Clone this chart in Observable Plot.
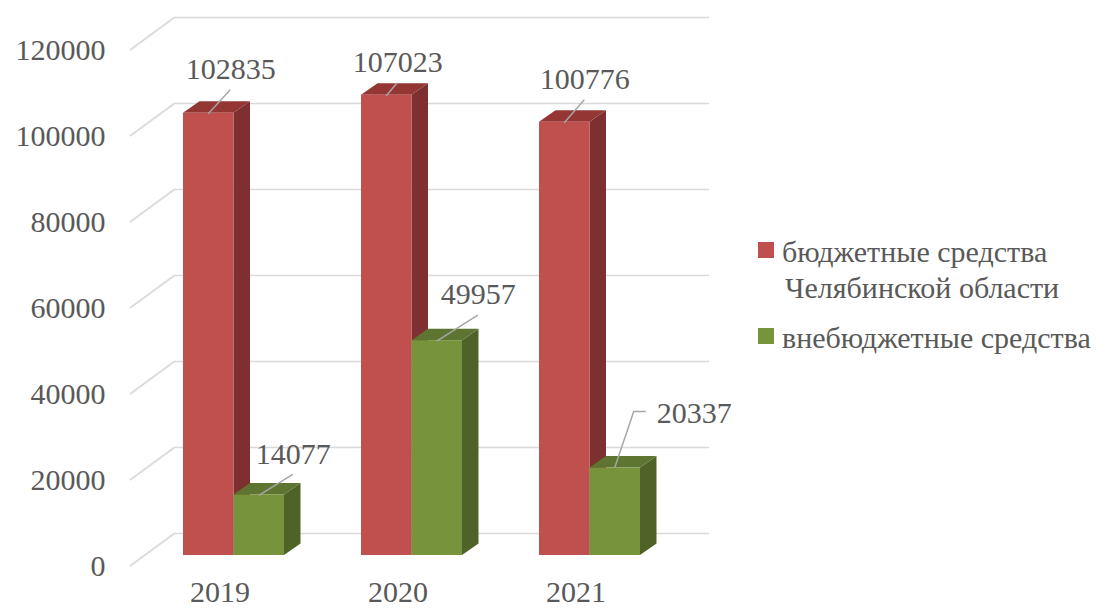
<!DOCTYPE html>
<html>
<head>
<meta charset="utf-8">
<script src="https://cdn.jsdelivr.net/npm/d3@7"></script>
<script src="https://cdn.jsdelivr.net/npm/@observablehq/plot@0.6"></script>
<style>
  html, body { margin: 0; padding: 0; background: #fff; }
  #wrap { position: relative; width: 1114px; height: 614px; overflow: hidden; color: #595959; }
  #chart { position: absolute; left: 0; top: 0; }
  #legend { position: absolute; left: 758px; top: 234px; line-height: 36px; font-size: 30px; }
  .item { display: flex; align-items: flex-start; margin-bottom: 14px; white-space: nowrap; }
  .sw { width: 16px; height: 16px; margin-top: 8px; margin-right: 8px; flex: none; }
</style>
</head>
<body>
<div id="wrap">
  <div id="chart"></div>
  <div id="legend"></div>
</div>
<script>
// ---- data ----
const years = ["2019", "2020", "2021"];
const budget = [102835, 107023, 100776];
const extra = [14077, 49957, 20337];
const seriesNames = ["бюджетные средства\nЧелябинской области", "внебюджетные средства"];
const yTicks = [0, 20000, 40000, 60000, 80000, 100000, 120000];

// ---- styles ----
const COLORS = [
  {front: "#c0504d", side: "#7d302f", top: "#943634"},
  {front: "#77933c", side: "#4f6228", top: "#5e7531"}
];
const GRID = "#d9d9d9";
const TEXT = "#595959";
const DEPTH = {dx: 16.5, dy: -11.5};
// label offsets (px) relative to the top-centre of each bar's front face
const labelOffsets = [
  [[22, -44], [11, -33], [20, -43]],
  [[34, -41], [41, -46], [79, -55]]
];

const FONT = "'Liberation Serif', serif";
const FS = 30;

const series = [budget, extra];
const rows = series.map((vals, s) => years.map((year, i) => ({year, value: vals[i], s})));

function barGeom(x, year, s) {
  const bw = x.bandwidth ? x.bandwidth() : 101;
  const x0 = x(year) + s * bw / 2;
  return {x0, x1: x0 + bw / 2, cx: x0 + bw / 4, bw};
}

// side and top faces of the 3D bars
function faces(s) {
  return (index, scales) => {
    const {x, y} = scales;
    const g = d3.create("svg:g");
    rows[s].forEach(d => {
      const {x0, x1} = barGeom(x, d.year, s);
      const yv = y(d.value), y0 = y(0);
      g.append("path")
        .attr("d", `M${x1},${yv}L${x1 + DEPTH.dx},${yv + DEPTH.dy}L${x1 + DEPTH.dx},${y0 + DEPTH.dy}L${x1},${y0}Z`)
        .attr("fill", COLORS[s].side);
      g.append("path")
        .attr("d", `M${x0},${yv}L${x0 + DEPTH.dx},${yv + DEPTH.dy}L${x1 + DEPTH.dx},${yv + DEPTH.dy}L${x1},${yv}Z`)
        .attr("fill", COLORS[s].top);
    });
    return g.node();
  };
}

// left-wall diagonal grid segments
function diagonals(index, scales, values, dims) {
  const {y} = scales;
  const ml = dims.marginLeft;
  const g = d3.create("svg:g").attr("stroke", GRID).attr("stroke-width", 1.6);
  yTicks.forEach(t => {
    g.append("line")
      .attr("x1", ml - 14).attr("y1", y(t) + 11)
      .attr("x2", ml + 31).attr("y2", y(t) - 22);
  });
  return g.node();
}

// leader lines from bars to their data labels
function leaders(index, scales) {
  const {x, y} = scales;
  const g = d3.create("svg:g").attr("stroke", "#a6a6a6").attr("stroke-width", 1.5).attr("fill", "none");
  rows.forEach((r, s) => r.forEach((d, i) => {
    const {cx} = barGeom(x, d.year, s);
    const yv = y(d.value);
    const [ox, oy] = labelOffsets[s][i];
    const lx = cx + ox, ly = yv + oy;
    if (ox > 60) {
      g.append("path").attr("d", `M${cx},${yv}L${cx + 19},${ly - 1}L${lx - 48},${ly - 1}`);
    } else {
      g.append("path").attr("d", `M${cx},${yv + 1}L${lx},${ly + 21}`);
    }
  }));
  return g.node();
}

const textStyle = {fill: TEXT, fontFamily: FONT, fontSize: FS};
const labelMarks = [];
rows.forEach((r, s) => r.forEach((d, i) => {
  const [ox, oy] = labelOffsets[s][i];
  labelMarks.push(Plot.text([d], {
    x: "year", y: "value", text: dd => String(dd.value),
    dx: (s === 0 ? -25.25 : 25.25) + ox, dy: oy, ...textStyle
  }));
}));

const chart = Plot.plot({
  width: 740,
  height: 614,
  marginLeft: 144,
  marginRight: 62,
  marginTop: 39,
  marginBottom: 59,
  style: {fontFamily: FONT, fontSize: FS + "px", color: TEXT, background: "transparent", overflow: "visible"},
  x: {domain: years, paddingInner: 0.4326, paddingOuter: 0.2163, axis: null},
  y: {domain: [0, 120000], axis: null},
  marks: [
    Plot.ruleY(yTicks, {dx: 31, dy: -22, stroke: GRID, strokeWidth: 1.6}),
    diagonals,
    Plot.text(yTicks, {y: d => d, text: d => String(d), frameAnchor: "left", textAnchor: "end", dx: -39, dy: 11, ...textStyle}),
    Plot.text(years, {x: d => d, text: d => d, frameAnchor: "bottom", dx: -14, dy: 46, ...textStyle}),
    faces(0),
    Plot.barY(rows[0], {x: "year", y: "value", fill: COLORS[0].front, insetRight: 50.5}),
    faces(1),
    Plot.barY(rows[1], {x: "year", y: "value", fill: COLORS[1].front, insetLeft: 50.5}),
    leaders,
    ...labelMarks
  ]
});
// put the serif family inline on every text element so it is not overridden
d3.select(chart).selectAll("text, tspan").style("font-family", FONT).style("font-size", FS + "px");
document.getElementById("chart").appendChild(chart);

// legend (HTML, right of the plot)
const legend = document.getElementById("legend");
seriesNames.forEach((name, s) => {
  const item = document.createElement("div");
  item.className = "item";
  item.style.fontFamily = FONT;
  const sw = document.createElement("div");
  sw.className = "sw";
  sw.style.background = COLORS[s].front;
  const tx = document.createElement("div");
  tx.style.fontFamily = FONT;
  name.split("\n").forEach((line, k) => {
    const ln = document.createElement("div");
    ln.textContent = line;
    ln.style.fontFamily = FONT;
    ln.style.fontSize = "30px";
    if (k > 0) ln.style.paddingLeft = "3px";
    tx.appendChild(ln);
  });
  item.appendChild(sw);
  item.appendChild(tx);
  legend.appendChild(item);
});
</script>
</body>
</html>
